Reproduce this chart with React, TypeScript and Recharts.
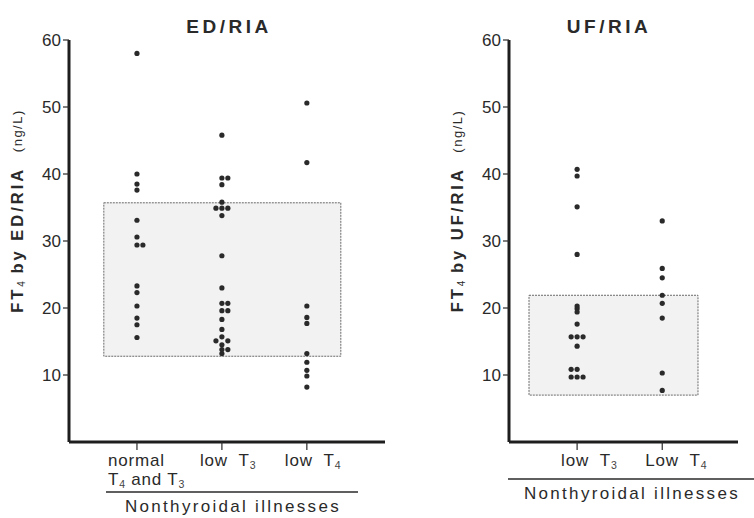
import React from 'react';
import { ScatterChart, Scatter, XAxis, YAxis, ReferenceArea } from 'recharts';

// ---------- data ----------
const yTicks = [10, 20, 30, 40, 50, 60];

// ED/RIA panel
const edCategories = [1, 2, 3];
const edCategoryLabels = [
  ['normal', 'T|4| and T|3'],
  ['low  T|3'],
  ['low  T|4'],
];
const edNormal = [58.0, 40.0, 38.5, 37.6, 33.1, 30.6, 29.4, 29.4, 23.3, 22.3, 20.3, 18.5, 17.5, 15.6];
const edNormalLane = [0, 0, 0, 0, 0, 0, 0, 1, 0, 0, 0, 0, 0, 0];
const edLowT3 = [45.8, 39.4, 39.4, 38.4, 35.8, 34.9, 34.9, 34.9, 33.8, 27.8, 23.0, 20.7, 20.7, 19.6, 19.6, 18.3, 16.8, 15.7, 15.1, 15.1, 14.5, 13.8, 13.8, 13.2];
const edLowT3Lane = [0, 0, 1, 0, 0, -1, 0, 1, 0, 0, 0, 0, 1, 0, 1, 0, 0, 0, -1, 1, 0, 0, 1, 0];
const edLowT4 = [50.6, 41.7, 20.3, 18.6, 17.7, 13.2, 11.9, 10.7, 9.85, 8.2];
const edLowT4Lane = [0, 0, 0, 0, 0, 0, 0, 0, 0, 0];
const edNormalRangeX = [0.61, 3.4];
const edNormalRangeY = [12.8, 35.7];

// UF/RIA panel
const ufCategories = [1, 2];
const ufCategoryLabels = [['low  T|3'], ['Low  T|4']];
const ufLowT3 = [40.7, 39.7, 35.1, 28.0, 20.3, 19.9, 19.4, 17.6, 15.7, 15.7, 15.7, 14.3, 10.85, 10.85, 9.7, 9.7, 9.7];
const ufLowT3Lane = [0, 0, 0, 0, 0, 0, 0, 0, -1, 0, 1, 0, -1, 0, -1, 0, 1];
const ufLowT4 = [33.0, 25.9, 24.5, 21.9, 20.7, 18.5, 10.3, 7.7];
const ufLowT4Lane = [0, 0, 0, 0, 0, 0, 0, 0];
const ufNormalRangeX = [0.435, 2.42];
const ufNormalRangeY = [7.0, 21.9];

// ---------- helpers ----------
const LANE = 0.07;
const toPoints = (cat: number, vals: number[], lanes: number[]) =>
  vals.map((v, i) => ({ x: cat + lanes[i] * LANE, y: v }));

const FONT = '"Liberation Sans", Arial, sans-serif';
const INK = '#2a2a2a';

const Dot = (p: any) => <circle cx={p.cx} cy={p.cy} r={2.6} fill={INK} />;

// renders "T|4| and T|3" -> T with subscript
const SubText = ({ s, x, y, size, anchor = 'start', ls = 0.8 }: any) => {
  const parts = s.split('|');
  return (
    <text x={x} y={y} fontFamily={FONT} fontSize={size} fill={INK} textAnchor={anchor} letterSpacing={ls} style={{ whiteSpace: 'pre' }}>
      {parts.map((p: string, i: number) =>
        i % 2 === 1 ? (
          <tspan key={i} fontSize={size * 0.62} dy={3} fill="#444">{p}</tspan>
        ) : (
          <tspan key={i} dy={i > 0 ? -3 : 0}>{p}</tspan>
        )
      )}
    </text>
  );
};

const makeTick = (labels: string[][], offsets: number[]) => (props: any) => {
  const idx = Math.round(props.payload.value) - 1;
  const lines = labels[idx] || [];
  return (
    <g>
      {lines.map((l, i) => (
        <SubText key={i} s={l} x={props.x + offsets[idx]} y={props.y + 15.5 + i * 19} size={17} />
      ))}
    </g>
  );
};

const groupLabel = (x0: number, x1: number, lineDy: number) => (props: any) => {
  const vb = props.viewBox || {};
  const ly = vb.y + lineDy;
  return (
    <g>
      <line x1={vb.x + x0} x2={vb.x + x1} y1={ly} y2={ly} stroke={INK} strokeWidth={1.6} />
      <text
        x={vb.x + (x0 + x1) / 2 + 1}
        y={ly + 20}
        textAnchor="middle"
        fontFamily={FONT}
        fontSize={17}
        letterSpacing={2.3}
        fill={INK}
      >
        Nonthyroidal illnesses
      </text>
    </g>
  );
};

const yLabel = (method: string) => (props: any) => {
  const vb = props.viewBox || {};
  const cx = vb.x + 8;
  const cy = 211;
  return (
    <text
      transform={`translate(${cx},${cy}) rotate(-90)`}
      textAnchor="middle"
      dominantBaseline="central"
      fontFamily={FONT}
      fill={INK}
      style={{ whiteSpace: 'pre' }}
    >
      <tspan fontSize={16.5} fontWeight="bold" letterSpacing={3}>FT</tspan>
      <tspan fontSize={10} dy={4}>4</tspan>
      <tspan fontSize={16.5} fontWeight="bold" letterSpacing={3} dy={-4}>{' by ' + method + '  '}</tspan>
      <tspan fontSize={13} letterSpacing={1.5}>(ng/L)</tspan>
    </text>
  );
};

const axisLine = { stroke: '#1e1e1e', strokeWidth: 3 };
const tickStyle = { fontFamily: FONT, fontSize: 17, fill: INK };

export default function App() {
  return (
    <div style={{ position: 'absolute', left: 0, top: 0, width: 754, height: 518, background: '#fff' }}>
      {/* titles */}
      <svg width={754} height={518} style={{ position: 'absolute', left: 0, top: 0, pointerEvents: 'none' }}>
        <text x={229} y={33} textAnchor="middle" fontFamily={FONT} fontWeight="bold" fontSize={19} letterSpacing={3.5} fill={INK}>ED/RIA</text>
        <text x={609} y={33} textAnchor="middle" fontFamily={FONT} fontWeight="bold" fontSize={19} letterSpacing={3.5} fill={INK}>UF/RIA</text>
      </svg>

      {/* ED/RIA panel */}
      <div style={{ position: 'absolute', left: 0, top: 0 }}>
        <ScatterChart width={400} height={518} margin={{ top: 40, right: 15, bottom: 6, left: 9 }}>
          <XAxis
            type="number"
            dataKey="x"
            domain={[0.2, 3.92]}
            ticks={edCategories}
            allowDataOverflow
            axisLine={axisLine}
            tickLine={{ stroke: INK, strokeWidth: 1.2 }}
            tickSize={8}
            tickMargin={0}
            height={70}
            tick={makeTick(edCategoryLabels, [-29, -22, -22])}
            label={groupLabel(37, 289, 50)}
          />
          <YAxis
            type="number"
            dataKey="y"
            domain={[0, 60]}
            ticks={yTicks}
            width={60}
            axisLine={axisLine}
            tickLine={{ stroke: INK, strokeWidth: 1.2 }}
            tickSize={6}
            tickMargin={2}
            tick={tickStyle}
            label={yLabel('ED/RIA')}
          />
          <ReferenceArea
            x1={edNormalRangeX[0]}
            x2={edNormalRangeX[1]}
            y1={edNormalRangeY[0]}
            y2={edNormalRangeY[1]}
            fill="#f2f2f2"
            fillOpacity={1}
            stroke="#6a6a6a"
            strokeWidth={1}
            strokeDasharray="2 1"
          />
          <Scatter data={toPoints(1, edNormal, edNormalLane)} shape={Dot} isAnimationActive={false} />
          <Scatter data={toPoints(2, edLowT3, edLowT3Lane)} shape={Dot} isAnimationActive={false} />
          <Scatter data={toPoints(3, edLowT4, edLowT4Lane)} shape={Dot} isAnimationActive={false} />
        </ScatterChart>
      </div>

      {/* UF/RIA panel */}
      <div style={{ position: 'absolute', left: 400, top: 0 }}>
        <ScatterChart width={354} height={518} margin={{ top: 40, right: 16, bottom: 6, left: 49 }}>
          <XAxis
            type="number"
            dataKey="x"
            domain={[0.2, 2.89]}
            ticks={ufCategories}
            allowDataOverflow
            axisLine={axisLine}
            tickLine={{ stroke: INK, strokeWidth: 1.2 }}
            tickSize={8}
            tickMargin={0}
            height={70}
            tick={makeTick(ufCategoryLabels, [-16, -17])}
            label={groupLabel(-1, 245, 37)}
          />
          <YAxis
            type="number"
            dataKey="y"
            domain={[0, 60]}
            ticks={yTicks}
            width={60}
            axisLine={axisLine}
            tickLine={{ stroke: INK, strokeWidth: 1.2 }}
            tickSize={6}
            tickMargin={2}
            tick={tickStyle}
            label={yLabel('UF/RIA')}
          />
          <ReferenceArea
            x1={ufNormalRangeX[0]}
            x2={ufNormalRangeX[1]}
            y1={ufNormalRangeY[0]}
            y2={ufNormalRangeY[1]}
            fill="#f2f2f2"
            fillOpacity={1}
            stroke="#6a6a6a"
            strokeWidth={1}
            strokeDasharray="2 1"
          />
          <Scatter data={toPoints(1, ufLowT3, ufLowT3Lane)} shape={Dot} isAnimationActive={false} />
          <Scatter data={toPoints(2, ufLowT4, ufLowT4Lane)} shape={Dot} isAnimationActive={false} />
        </ScatterChart>
      </div>
    </div>
  );
}
